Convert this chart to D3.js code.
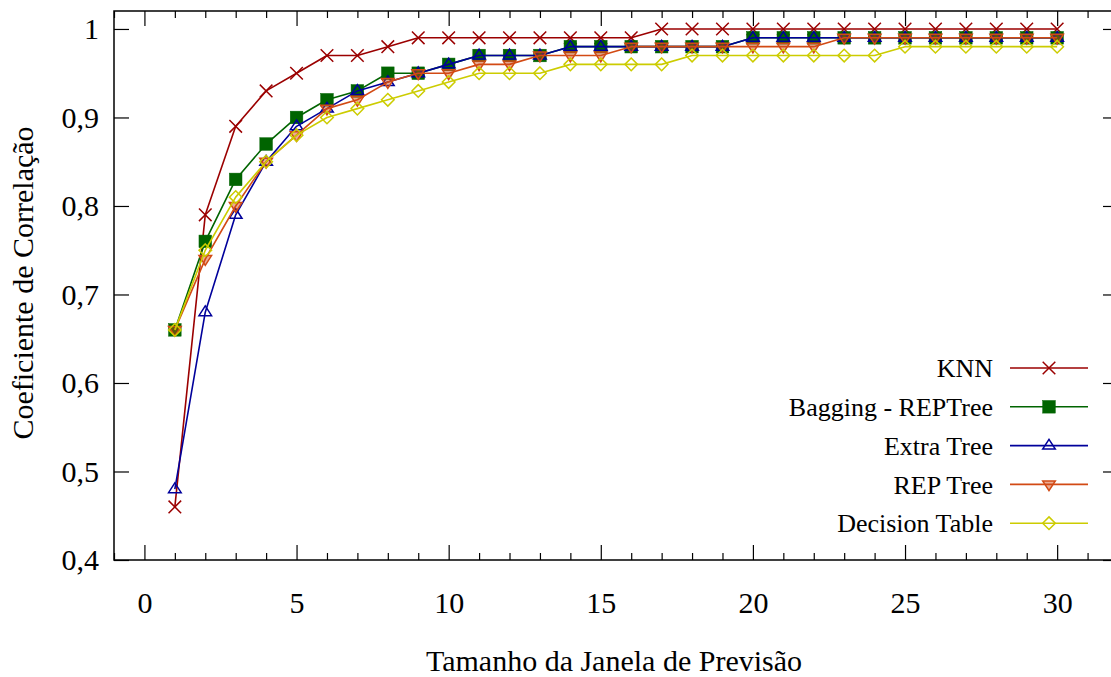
<!DOCTYPE html>
<html>
<head>
<meta charset="utf-8">
<script src="https://cdn.jsdelivr.net/npm/d3@7"></script>
<style>
	html, body { margin: 0; padding: 0; background: #fff; }
	svg { display: block; }
	svg text { font-family: 'Liberation Serif', 'Times New Roman', serif; }
</style>
</head>
<body>
<svg id="chart" width="1111" height="677"></svg>
<script>
const windows = d3.range(1, 31);

const seriesNames = ['KNN', 'Bagging - REPTree', 'Extra Tree', 'REP Tree', 'Decision Table'];

const knn = [0.46, 0.79, 0.89, 0.93, 0.95, 0.97, 0.97, 0.98, 0.99, 0.99,
	0.99, 0.99, 0.99, 0.99, 0.99, 0.99, 1.0, 1.0, 1.0, 1.0,
	1.0, 1.0, 1.0, 1.0, 1.0, 1.0, 1.0, 1.0, 1.0, 1.0];
const bagging = [0.66, 0.76, 0.83, 0.87, 0.90, 0.92, 0.93, 0.95, 0.95, 0.96,
	0.97, 0.97, 0.97, 0.98, 0.98, 0.98, 0.98, 0.98, 0.98, 0.99,
	0.99, 0.99, 0.99, 0.99, 0.99, 0.99, 0.99, 0.99, 0.99, 0.99];
const extraTree = [0.48, 0.68, 0.79, 0.85, 0.89, 0.91, 0.93, 0.94, 0.95, 0.96,
	0.97, 0.97, 0.97, 0.98, 0.98, 0.98, 0.98, 0.98, 0.98, 0.99,
	0.99, 0.99, 0.99, 0.99, 0.99, 0.99, 0.99, 0.99, 0.99, 0.99];
const repTree = [0.66, 0.74, 0.80, 0.85, 0.88, 0.91, 0.92, 0.94, 0.95, 0.95,
	0.96, 0.96, 0.97, 0.97, 0.97, 0.98, 0.98, 0.98, 0.98, 0.98,
	0.98, 0.98, 0.99, 0.99, 0.99, 0.99, 0.99, 0.99, 0.99, 0.99];
const decisionTable = [0.66, 0.75, 0.81, 0.85, 0.88, 0.90, 0.91, 0.92, 0.93, 0.94,
	0.95, 0.95, 0.95, 0.96, 0.96, 0.96, 0.96, 0.97, 0.97, 0.97,
	0.97, 0.97, 0.97, 0.97, 0.98, 0.98, 0.98, 0.98, 0.98, 0.98];

const xMajorTicks = [0, 5, 10, 15, 20, 25, 30];
const yTicks = [0.4, 0.5, 0.6, 0.7, 0.8, 0.9, 1.0];

const series = [
	{ name: seriesNames[0], values: knn, color: '#9b0000', marker: 'cross' },
	{ name: seriesNames[1], values: bagging, color: '#006400', marker: 'square' },
	{ name: seriesNames[2], values: extraTree, color: '#00009b', marker: 'triUp' },
	{ name: seriesNames[3], values: repTree, color: '#d24a14', marker: 'triDown' },
	{ name: seriesNames[4], values: decisionTable, color: '#cccc00', marker: 'diamond' }
];

const SERIF = "'Liberation Serif', 'Times New Roman', serif";
const margin = { top: 11, left: 114, bottom: 117 };
const plotRight = 1118;
const height = 677 - margin.top - margin.bottom;
const width = plotRight - margin.left;

const xScale = d3.scaleLinear([-1, 32], [0, width]);
const yScale = d3.scaleLinear([0.4, 1.0203], [height, 0]);

const svg = d3.select('#chart');
const plot = svg.append('g').attr('transform', `translate(${margin.left}, ${margin.top})`);

const fmtY = (d) => (d === 1 ? '1' : d.toFixed(1).replace('.', ','));

/** TICKS *********************************************************************/
function styleAxis(g) {
	g.attr('font-family', SERIF).attr('font-size', 30);
	g.select('.domain').remove();
	g.selectAll('.tick line').attr('stroke', '#000').attr('stroke-width', 1.2);
	g.selectAll('.tick text').attr('fill', '#000').attr('font-family', SERIF);
}

const minorX = d3.range(-1, 33).filter((d) => !xMajorTicks.includes(d));

plot.append('g')
	.attr('transform', `translate(0, ${height})`)
	.call(d3.axisBottom(xScale).tickValues(xMajorTicks).tickSize(-15).tickPadding(32))
	.call(styleAxis);
plot.append('g')
	.attr('transform', `translate(0, ${height})`)
	.call(d3.axisBottom(xScale).tickValues(minorX).tickSize(-7).tickFormat(''))
	.call(styleAxis);
plot.append('g')
	.call(d3.axisTop(xScale).tickValues(xMajorTicks).tickSize(-15).tickFormat(''))
	.call(styleAxis);
plot.append('g')
	.call(d3.axisTop(xScale).tickValues(minorX).tickSize(-7).tickFormat(''))
	.call(styleAxis);
plot.append('g')
	.call(d3.axisLeft(yScale).tickValues(yTicks).tickSize(-15).tickPadding(15).tickFormat(fmtY))
	.call(styleAxis);
plot.append('g')
	.attr('transform', `translate(${width}, 0)`)
	.call(d3.axisRight(yScale).tickValues(yTicks).tickSize(-15).tickFormat(''))
	.call(styleAxis);

// frame
plot.append('rect')
	.attr('x', 0)
	.attr('y', 0)
	.attr('width', width)
	.attr('height', height)
	.attr('fill', 'none')
	.attr('stroke', '#000')
	.attr('stroke-width', 1.5);

/** MARKERS *******************************************************************/
function drawMarker(sel, type, color) {
	const s = 6.3;
	if (type === 'cross') {
		sel.append('path')
			.attr('d', `M${-s},${-s}L${s},${s}M${-s},${s}L${s},${-s}`)
			.attr('stroke', color).attr('stroke-width', 1.5).attr('fill', 'none');
	} else if (type === 'square') {
		sel.append('rect')
			.attr('x', -s).attr('y', -s).attr('width', 2 * s).attr('height', 2 * s)
			.attr('fill', color).attr('stroke', color).attr('stroke-width', 0.5);
	} else if (type === 'triUp') {
		sel.append('path')
			.attr('d', `M0,${-s}L${s},${s * 0.55}L${-s},${s * 0.55}Z`)
			.attr('fill', 'none').attr('stroke', color).attr('stroke-width', 1.5);
	} else if (type === 'triDown') {
		sel.append('path')
			.attr('d', `M0,${s}L${s},${-s * 0.55}L${-s},${-s * 0.55}Z`)
			.attr('fill', color).attr('fill-opacity', 0.45)
			.attr('stroke', color).attr('stroke-width', 1.5);
	} else {
		sel.append('path')
			.attr('d', `M0,${-s}L${s},0L0,${s}L${-s},0Z`)
			.attr('fill', 'none').attr('stroke', color).attr('stroke-width', 1.5);
	}
}

/** DATA **********************************************************************/
const line = d3.line()
	.x((d, i) => xScale(windows[i]))
	.y((d) => yScale(d));

series.forEach((s) => {
	const g = plot.append('g').attr('class', 'series');
	g.append('path')
		.attr('d', line(s.values))
		.attr('fill', 'none')
		.attr('stroke', s.color)
		.attr('stroke-width', 1.6)
		.attr('stroke-linejoin', 'round');
	g.selectAll('.pt')
		.data(s.values)
		.enter()
		.append('g')
		.attr('class', 'pt')
		.attr('transform', (d, i) => `translate(${xScale(windows[i])}, ${yScale(d)})`)
		.each(function () {
			drawMarker(d3.select(this), s.marker, s.color);
		});
});

/** LEGEND ********************************************************************/
const legend = svg.append('g').attr('transform', 'translate(0, 368)');
series.forEach((s, i) => {
	const row = legend.append('g').attr('transform', `translate(0, ${i * 38.8})`);
	row.append('text')
		.attr('x', 993)
		.attr('y', 0)
		.attr('dy', '0.35em')
		.attr('text-anchor', 'end')
		.attr('font-size', 26)
		.text(s.name);
	row.append('line')
		.attr('x1', 1010).attr('x2', 1088)
		.attr('y1', 0).attr('y2', 0)
		.attr('stroke', s.color).attr('stroke-width', 1.6);
	const m = row.append('g').attr('transform', 'translate(1049, 0)');
	drawMarker(m, s.marker, s.color);
});

/** TITLES ********************************************************************/
svg.append('text')
	.attr('x', 614)
	.attr('y', 671)
	.attr('text-anchor', 'middle')
	.attr('font-size', 30)
	.text('Tamanho da Janela de Previsão');

svg.append('text')
	.attr('transform', 'translate(33, 283) rotate(-90)')
	.attr('text-anchor', 'middle')
	.attr('font-size', 30)
	.text('Coeficiente de Correlação');
</script>
</body>
</html>
